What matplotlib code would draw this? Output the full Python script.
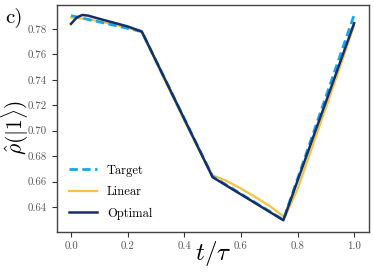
import numpy as np
import matplotlib
matplotlib.use('Agg')
import matplotlib.pyplot as plt

plt.rcParams['font.family'] = 'serif'
plt.rcParams['font.serif'] = ['cmr10']
plt.rcParams['mathtext.fontset'] = 'cm'
plt.rcParams['axes.formatter.use_mathtext'] = True

# target protocol
t_target = [0.0, 0.25, 0.5, 0.75, 1.0]
rho_target = [0.7905, 0.778, 0.664, 0.630, 0.791]

# linear interpolation protocol
t_linear = [0.0, 0.05, 0.1, 0.15, 0.2, 0.25, 0.3, 0.35, 0.4, 0.45, 0.5,
            0.55, 0.6, 0.65, 0.7, 0.755, 0.8, 0.85, 0.9, 0.95, 1.0]
rho_linear = [0.789, 0.788, 0.786, 0.7835, 0.781, 0.7775, 0.754, 0.731,
              0.708, 0.686, 0.665, 0.6605, 0.6545, 0.648, 0.641, 0.632,
              0.654, 0.686, 0.718, 0.750, 0.783]

# optimal protocol
t_optimal = [0.0, 0.02, 0.04, 0.06, 0.1, 0.15, 0.2, 0.25, 0.5, 0.75, 1.0]
rho_optimal = [0.784, 0.789, 0.791, 0.7905, 0.788, 0.785, 0.782, 0.778,
               0.6635, 0.6296, 0.7845]

fig = plt.figure(figsize=(3.74, 2.74), dpi=100)
ax = fig.add_axes([0.152, 0.153, 0.835, 0.829])

ax.plot(t_target, rho_target, color='#12a9ea', lw=2, ls='--',
        dashes=(3, 1.6), label='Target', zorder=3)
ax.plot(t_linear, rho_linear, color='#f8c240', lw=1.6, label='Linear',
        zorder=2)
ax.plot(t_optimal, rho_optimal, color='#172f68', lw=1.8, label='Optimal',
        zorder=4)

ax.set_xlim(-0.05, 1.053)
ax.set_ylim(0.6203, 0.7989)
ax.set_xticks(np.arange(0, 1.01, 0.2))
ax.set_yticks(np.arange(0.64, 0.781, 0.02))
ax.xaxis.set_major_formatter(matplotlib.ticker.FormatStrFormatter('%.1f'))
ax.yaxis.set_major_formatter(matplotlib.ticker.FormatStrFormatter('%.2f'))
ax.tick_params(labelsize=7.8, labelcolor='#555555', color='#333333',
               length=3.5, width=0.8)
for s in ax.spines.values():
    s.set_color('#444444')
    s.set_linewidth(1.0)

ax.set_xlabel(r'$t/\tau$', fontsize=18)
ax.xaxis.set_label_coords(0.5, -0.03)
ax.set_ylabel(r'$\hat{\rho}(|1\rangle)$', fontsize=15.5)
ax.yaxis.set_label_coords(-0.083, 0.46)
fig.text(0.013, 0.915, 'c)', fontsize=15)

ax.legend(loc='lower left', frameon=False, fontsize=9, handlelength=2.2,
          borderaxespad=0.6, labelspacing=0.75)

fig.savefig('out.png', dpi=100)
